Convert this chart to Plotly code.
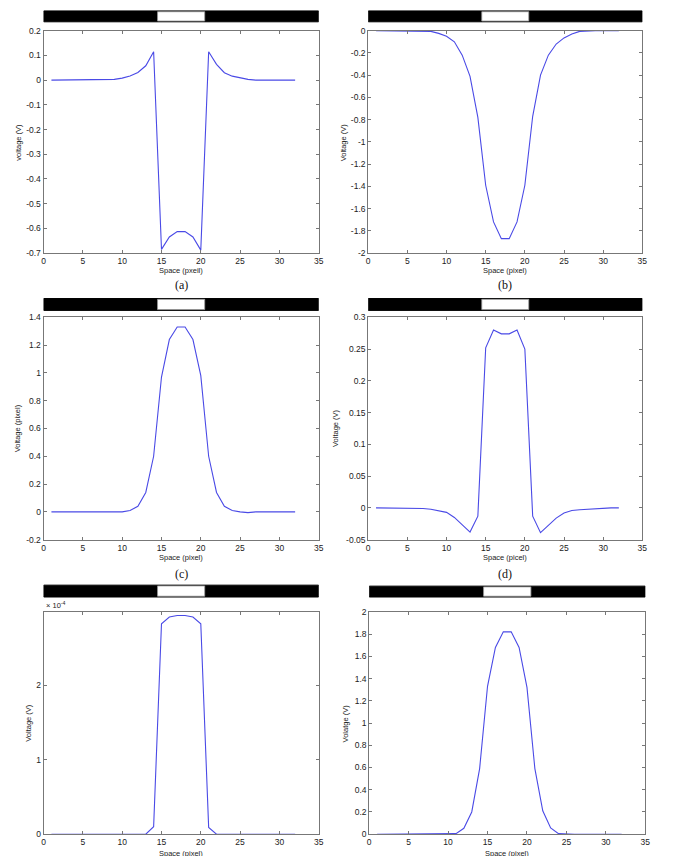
import plotly.graph_objects as go

# ---------------- data ----------------
space = list(range(1, 33))

volt_a = [0, 0, 0, 0, 0, 0, 0, 0, 0.003, 0.008, 0.017, 0.031, 0.058, 0.115,
          -0.685, -0.635, -0.613, -0.613, -0.635, -0.688,
          0.115, 0.064, 0.03, 0.016, 0.008, 0.003, 0, 0, 0, 0, 0, 0]
volt_b = [0, 0, 0, 0, 0, 0, 0, -0.006, -0.024, -0.05, -0.1, -0.22, -0.41, -0.78,
          -1.39, -1.72, -1.87, -1.87, -1.72, -1.39, -0.77, -0.4, -0.22, -0.12,
          -0.065, -0.03, -0.006, 0, 0, 0, 0, 0]
volt_c = [0, 0, 0, 0, 0, 0, 0, 0, -0.005, 0, 0.01, 0.04, 0.14, 0.4,
          0.97, 1.24, 1.33, 1.33, 1.24, 0.98, 0.4, 0.14, 0.04, 0.01,
          0, -0.005, 0, 0, 0, 0, 0, 0]
volt_d = [0, 0, 0, 0, 0, 0, -0.001, -0.002, -0.004, -0.007, -0.015, -0.026, -0.038, -0.013,
          0.252, 0.28, 0.274, 0.274, 0.28, 0.25, -0.013, -0.039, -0.028, -0.016,
          -0.008, -0.004, -0.003, -0.002, -0.001, 0, 0, 0]
volt_e = [0, 0, 0, 0, 0, 0, 0, 0, 0, 0, 0, 0, 0, 0.1e-4,
          2.83e-4, 2.92e-4, 2.94e-4, 2.94e-4, 2.92e-4, 2.83e-4, 0.09e-4,
          0, 0, 0, 0, 0, 0, 0, 0, 0, 0, 0]
volt_f = [0, 0, 0, 0, 0, 0, 0, 0, 0, 0, 0.005, 0.053, 0.2, 0.59,
          1.33, 1.68, 1.82, 1.82, 1.68, 1.32, 0.59, 0.21, 0.056, 0.005,
          0, 0, 0, 0, 0, 0, 0, 0]

x_range = [0, 35]
x_ticks = [0, 5, 10, 15, 20, 25, 30, 35]
stim_white = [14.5, 20.5]   # bright bar position in space (pixel)

ticks_a = [-0.7, -0.6, -0.5, -0.4, -0.3, -0.2, -0.1, 0, 0.1, 0.2]
ticks_b = [-2, -1.8, -1.6, -1.4, -1.2, -1, -0.8, -0.6, -0.4, -0.2, 0]
ticks_c = [-0.2, 0, 0.2, 0.4, 0.6, 0.8, 1, 1.2, 1.4]
ticks_d = [-0.05, 0, 0.05, 0.1, 0.15, 0.2, 0.25, 0.3]
ticks_e = [0, 1e-4, 2e-4]
ticks_e_text = ["0", "1", "2"]
ticks_f = [0, 0.2, 0.4, 0.6, 0.8, 1, 1.2, 1.4, 1.6, 1.8, 2]

y_titles = ["voltage (V)", "Voltage (V)", "Voltage (pixel)", "Voltage (V)", "Voltage (V)", "Volatge (V)"]
x_titles = ["Space (pxeil)", "Space (pixel)", "Space (pixel)", "Space (picel)", "Space (pixel)", "Space (pixel)"]
captions = ["(a)", "(b)", "(c)", "(d)", None, None]   # (e),(f) fall below the picture

# ---------------- layout geometry (pixels) ----------------
W, H = 681, 856
# (left, right, top, bottom) of each plot box
boxes = [(42, 320, 26, 251), (370, 647, 26, 251),
         (42, 320, 316, 541), (370, 647, 316, 541),
         (42, 320, 614, 839), (371, 650, 614, 839)]
bar_px = [(6, 17), (6, 17), (297, 309), (297, 309), (587, 599), (588, 599)]
ytitle_x = [17, 345, 16, 337, 26, 347]
xtitle_y = [269, 269, 559, 559, 859, 859]
caption_y = [283, 283, 576, 576, None, None]

def px_x(p):
    return p / W

def px_y(p):
    return 1 - p / H

series = [volt_a, volt_b, volt_c, volt_d, volt_e, volt_f]
yticks = [ticks_a, ticks_b, ticks_c, ticks_d, ticks_e, ticks_f]
yranges = [[-0.7, 0.2], [-2, 0], [-0.2, 1.4], [-0.05, 0.3], [0, 2.99e-4], [0, 2]]

def fmt(v):
    return ("%g" % v)

line_color = "#4a4ae6"
axis_color = "#777777"
text_color = "#222222"
tick_font = dict(family="Liberation Sans, Arial", size=8.5, color=text_color)
title_font = dict(family="Liberation Sans, Arial", size=7.5, color=text_color)

fig = go.Figure()
layout = dict(width=W, height=H, margin=dict(l=0, r=0, t=0, b=0),
              paper_bgcolor="white", plot_bgcolor="white", showlegend=False)
shapes = []
annotations = []

for i in range(6):
    n = "" if i == 0 else str(i + 1)
    l, r, t, b = boxes[i]
    fig.add_trace(go.Scatter(x=space, y=series[i], mode="lines",
                             line=dict(color=line_color, width=1.1),
                             xaxis="x" + n, yaxis="y" + n, hoverinfo="skip"))
    ttext = ticks_e_text if i == 4 else [fmt(v) for v in yticks[i]]
    layout["xaxis" + n] = dict(domain=[px_x(l), px_x(r)], anchor="y" + n, range=x_range,
                               tickvals=x_ticks, ticktext=[fmt(v) for v in x_ticks],
                               ticks="inside", ticklen=3, tickcolor=axis_color,
                               showline=True, linecolor=axis_color, linewidth=1,
                               mirror="ticks", showgrid=False, zeroline=False,
                               tickfont=tick_font, fixedrange=True)
    layout["yaxis" + n] = dict(domain=[px_y(b), px_y(t)], anchor="x" + n, range=yranges[i],
                               tickvals=yticks[i], ticktext=ttext,
                               ticks="inside", ticklen=3, tickcolor=axis_color,
                               showline=True, linecolor=axis_color, linewidth=1,
                               mirror="ticks", showgrid=False, zeroline=False,
                               tickfont=tick_font, fixedrange=True)
    # stimulus bar
    bt, bb = bar_px[i]
    shapes.append(dict(type="rect", xref="x" + n, yref="paper",
                       x0=x_range[0], x1=x_range[1], y0=px_y(bb), y1=px_y(bt),
                       fillcolor="black", line=dict(color="black", width=1), layer="above"))
    shapes.append(dict(type="rect", xref="x" + n, yref="paper",
                       x0=stim_white[0], x1=stim_white[1], y0=px_y(bb) + 0.8 / H, y1=px_y(bt) - 0.8 / H,
                       fillcolor="white", line=dict(color="#999999", width=0.8), layer="above"))
    # titles
    annotations.append(dict(text=y_titles[i], xref="paper", yref="paper",
                            x=px_x(ytitle_x[i]), y=px_y((t + b) / 2), textangle=-90,
                            showarrow=False, xanchor="center", yanchor="middle", font=title_font))
    annotations.append(dict(text=x_titles[i], xref="paper", yref="paper",
                            x=px_x((l + r) / 2), y=px_y(xtitle_y[i]),
                            showarrow=False, xanchor="center", yanchor="middle", font=title_font))
    if captions[i]:
        annotations.append(dict(text=captions[i], xref="paper", yref="paper",
                                x=px_x((l + r) / 2), y=px_y(caption_y[i]),
                                showarrow=False, xanchor="center", yanchor="middle",
                                font=dict(family="Liberation Serif, Times New Roman", size=12, color="#111111")))

annotations.append(dict(text="× 10<sup>-4</sup>", xref="paper", yref="paper",
                        x=px_x(42), y=px_y(607), showarrow=False, xanchor="left", yanchor="middle",
                        font=dict(family="Liberation Sans, Arial", size=7.5, color=text_color)))

layout["shapes"] = shapes
layout["annotations"] = annotations
fig.update_layout(**layout)
fig.write_html("out.html")
